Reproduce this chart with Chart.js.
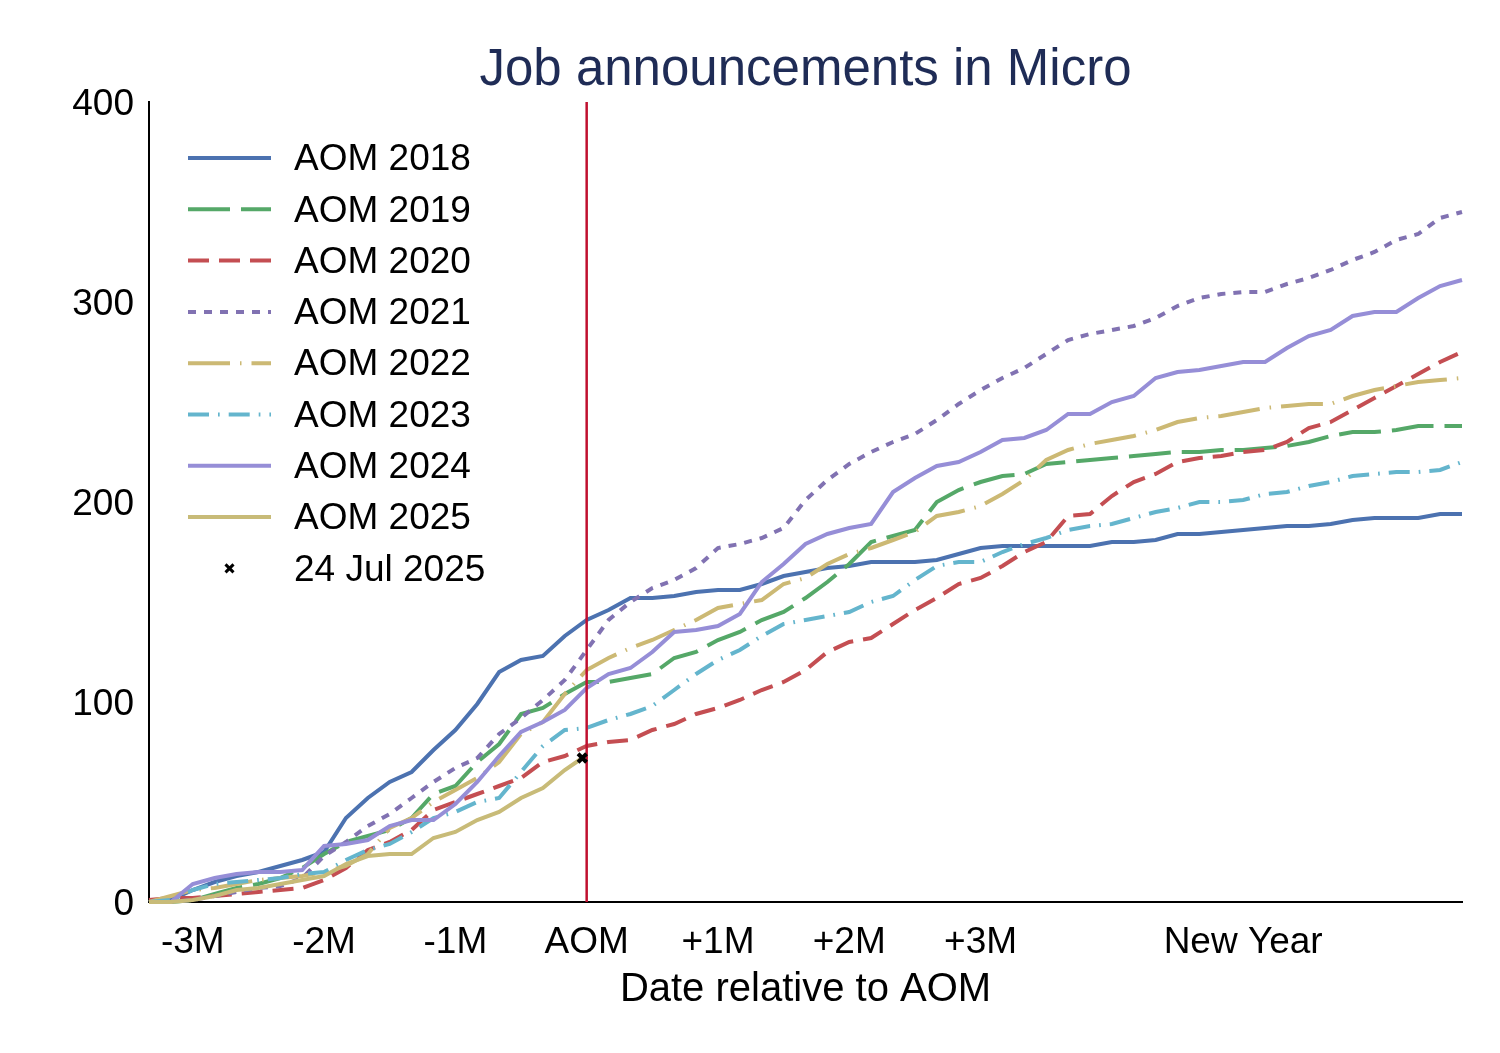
<!DOCTYPE html>
<html>
<head>
<meta charset="utf-8">
<title>Job announcements in Micro</title>
<script src="https://cdn.jsdelivr.net/npm/chart.js@4.4.1/dist/chart.umd.min.js"></script>
<style>
  html, body { margin: 0; padding: 0; background: #fff; }
  canvas { display: block; }
</style>
</head>
<body>
<canvas id="chart" width="1500" height="1053"></canvas>
<script>
// days relative to AOM (30-day months)
const days = [-100,-95,-90,-85,-80,-75,-70,-65,-60,-55,-50,-45,-40,-35,-30,-25,-20,-15,-10,-5,
  0,5,10,15,20,25,30,35,40,45,50,55,60,65,70,75,80,85,90,95,
  100,105,110,115,120,125,130,135,140,145,150,155,160,165,170,175,180,185,190,195,200];

const aom2018 = [0,1,6,10,13,15,18,21,25,42, 52,60,65,76,86,99,115,121,123,133,
  141,146,152,152,153,155,156,156,159,163, 165,167,168,170,170,170,171,174,177,178,
  178,178,178,178,180,180,181,184,184,185, 186,187,188,188,189,191,192,192,192,194, 194];
const aom2019 = [0,0,1,4,7,9,12,17,24,30, 33,36,42,54,58,70,79,94,97,104,
  110,110,112,114,122,125,131,135,141,145, 152,160,169,180,183,186,200,206,210,213,
  214,219,220,221,222,223,224,225,225,226, 226,227,228,230,233,235,235,236,238,238, 238];
const aom2020 = [1,2,2,3,4,5,6,7,11,17, 26,30,36,46,50,54,58,62,70,73,
  78,80,81,86,89,94,97,101,106,110, 116,125,130,132,139,146,152,159,162,168,
  175,180,193,194,203,210,214,220,222,223, 225,226,230,237,240,246,252,258,264,270, 275];
const aom2021 = [0,0,1,3,5,7,8,12,23,30, 38,44,52,60,67,72,84,92,101,111,
  126,141,150,157,161,167,177,179,182,187, 201,211,219,225,230,234,241,249,256,262,
  267,274,281,284,286,288,292,298,302,304, 305,305,309,312,316,321,325,331,334,342, 345];
const aom2022 = [0,3,6,7,9,11,12,13,15,18, 24,37,42,50,56,62,70,84,90,104,
  116,122,127,131,136,141,147,149,151,159, 162,169,174,177,181,185,193,195,198,204,
  211,221,226,229,231,233,236,240,242,243, 245,247,248,249,249,253,256,258,260,261, 262];
const aom2023 = [0,1,6,9,10,11,12,14,15,21, 26,29,35,42,45,50,52,65,78,86,
  87,91,94,98,106,114,121,126,133,139, 141,143,145,150,153,161,168,170,170,175,
  179,182,186,188,189,192,195,197,200,200, 201,204,205,208,210,213,214,215,215,216, 220];
const aom2024 = [0,0,9,12,14,15,15,16,28,29, 31,38,41,41,49,60,73,85,90,96,
  107,114,117,125,135,136,138,144,160,169, 179,184,187,189,205,212,218,220,225,231,
  232,236,244,244,250,253,262,265,266,268, 270,270,277,283,286,293,295,295,302,308, 311];

// current year only runs up to the snapshot date
const days2025 = [-100,-95,-90,-85,-80,-75,-70,-65,-60,-55,-50,-45,-40,-35,-30,-25,-20,-15,-10,-5,-1];
const aom2025 = [0,0,1,3,6,7,9,11,13,19,23,24,24,32,35,41,45,52,57,66,72];

const markerDay = -1;
const markerValue = 72;
const markerLabel = '24 Jul 2025';
const aomDay = 0;

const seriesNames = ['AOM 2018','AOM 2019','AOM 2020','AOM 2021','AOM 2022','AOM 2023','AOM 2024','AOM 2025'];
const seriesValues = [aom2018, aom2019, aom2020, aom2021, aom2022, aom2023, aom2024, aom2025];
const seriesDays = [days, days, days, days, days, days, days, days2025];

const tickDays = [-90, -60, -30, 0, 30, 60, 90, 150];
const tickLabels = ['-3M', '-2M', '-1M', 'AOM', '+1M', '+2M', '+3M', 'New Year'];
const yTicks = [0, 100, 200, 300, 400];

const colors = ['#4C72B0','#55A868','#C44E52','#8172B2','#CCB974','#64B5CD','#968ED7','#C8BB78'];
const dashes = [[], [42, 11], [21, 10], [8, 8], [42, 10, 1.5, 10], [21, 9, 1.7, 9], [], []];

const FONT = '"Liberation Sans", Arial, sans-serif';
const chartTitle = 'Job announcements in Micro';

const datasets = seriesNames.map((name, i) => ({
  label: name,
  data: seriesDays[i].map((d, j) => ({ x: d, y: seriesValues[i][j] })),
  borderColor: colors[i],
  backgroundColor: colors[i],
  borderWidth: 4,
  borderDash: dashes[i],
  pointRadius: 0,
  tension: 0,
  fill: false,
  clip: 6,
  order: 20 - i
}));

datasets.push({
  label: markerLabel,
  data: [{ x: markerDay, y: markerValue }],
  showLine: false,
  pointStyle: 'crossRot',
  pointRadius: 6,
  pointBorderWidth: 4,
  pointBorderColor: '#000',
  pointBackgroundColor: '#000',
  borderColor: '#000',
  order: 0
});
const markerIndex = datasets.length - 1;

// red vertical line at AOM, drawn just before the marker
const aomLine = {
  id: 'aomLine',
  beforeDatasetDraw(chart, args) {
    if (args.index !== markerIndex) return;
    const { ctx, chartArea, scales } = chart;
    const x = scales.x.getPixelForValue(aomDay);
    ctx.save();
    ctx.strokeStyle = '#C0102F';
    ctx.lineWidth = 2.5;
    ctx.beginPath();
    ctx.moveTo(x, chartArea.top);
    ctx.lineTo(x, chartArea.bottom);
    ctx.stroke();
    ctx.restore();
  }
};

// title centred over the plot area, not the canvas
const plotTitle = {
  id: 'plotTitle',
  afterDraw(chart) {
    const { ctx, chartArea } = chart;
    ctx.save();
    ctx.font = '51px ' + FONT;
    ctx.fillStyle = '#1F2C56';
    ctx.textAlign = 'center';
    ctx.textBaseline = 'middle';
    ctx.fillText(chartTitle, (chartArea.left + chartArea.right) / 2, 71);
    ctx.restore();
  }
};

// legend inside the plot, top-left
const insideLegend = {
  id: 'insideLegend',
  afterDraw(chart) {
    const ctx = chart.ctx;
    const x0 = 188, x1 = 271, tx = 294, y0 = 158, step = 51.3;
    ctx.save();
    ctx.font = '37px ' + FONT;
    ctx.textBaseline = 'middle';
    ctx.textAlign = 'left';
    seriesNames.forEach((name, i) => {
      const y = y0 + i * step;
      ctx.strokeStyle = colors[i];
      ctx.lineWidth = 4;
      ctx.setLineDash(dashes[i]);
      ctx.beginPath();
      ctx.moveTo(x0, y);
      ctx.lineTo(x1, y);
      ctx.stroke();
      ctx.setLineDash([]);
      ctx.fillStyle = '#000';
      ctx.fillText(name, tx, y + 2);
    });
    const y = y0 + seriesNames.length * step;
    const cx = (x0 + x1) / 2, r = 4;
    ctx.strokeStyle = '#000';
    ctx.lineWidth = 3;
    ctx.beginPath();
    ctx.moveTo(cx - r, y - r); ctx.lineTo(cx + r, y + r);
    ctx.moveTo(cx + r, y - r); ctx.lineTo(cx - r, y + r);
    ctx.stroke();
    ctx.fillStyle = '#000';
    ctx.fillText(markerLabel, tx, y + 2);
    ctx.restore();
  }
};

new Chart(document.getElementById('chart').getContext('2d'), {
  type: 'line',
  data: { datasets },
  options: {
    responsive: false,
    animation: false,
    devicePixelRatio: 1,
    layout: { padding: { left: 0, right: 38, top: 102, bottom: 0 } },
    plugins: {
      legend: { display: false },
      tooltip: { enabled: false },
      title: { display: false }
    },
    scales: {
      x: {
        type: 'linear',
        min: -100,
        max: 200,
        afterBuildTicks: (scale) => { scale.ticks = tickDays.map(v => ({ value: v })); },
        afterFit: (scale) => { scale.height = 151; },
        grid: { display: false, drawTicks: false },
        border: { display: true, color: '#000', width: 2 },
        ticks: {
          color: '#000',
          font: { family: FONT, size: 37 },
          padding: 19,
          maxRotation: 0,
          autoSkip: false,
          callback: (value) => tickLabels[tickDays.indexOf(value)]
        },
        title: {
          display: true,
          text: 'Date relative to AOM',
          color: '#000',
          font: { family: FONT, size: 40 },
          padding: { top: 0, bottom: 39 }
        }
      },
      y: {
        min: 0,
        max: 400,
        afterBuildTicks: (scale) => { scale.ticks = yTicks.map(v => ({ value: v })); },
        afterFit: (scale) => { scale.width = 149; },
        grid: { display: false, drawTicks: false },
        border: { display: true, color: '#000', width: 2 },
        ticks: {
          color: '#000',
          font: { family: FONT, size: 37 },
          padding: 15,
          labelOffset: 3
        }
      }
    }
  },
  plugins: [aomLine, plotTitle, insideLegend]
});
</script>
</body>
</html>
